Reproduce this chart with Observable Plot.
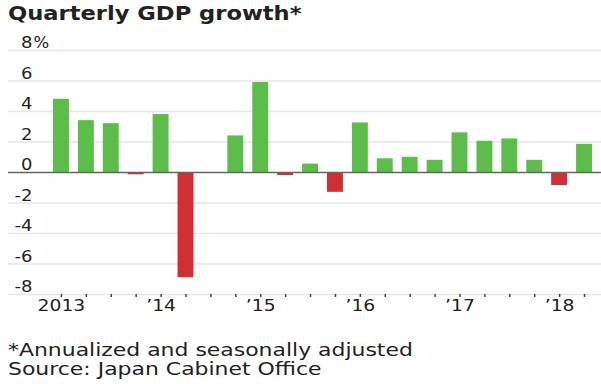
<!DOCTYPE html>
<html>
<head>
<meta charset="utf-8">
<script src="https://cdn.jsdelivr.net/npm/d3@7"></script>
<script src="https://cdn.jsdelivr.net/npm/@observablehq/plot@0.6"></script>
<style>
  html, body { margin: 0; padding: 0; background: #fff; }
  body { width: 601px; height: 384px; overflow: hidden; font-family: "DejaVu Sans", sans-serif; color: #222; }
  #title { height: 26px; line-height: 26px; font-size: 20px; font-weight: bold; padding-left: 8px; white-space: nowrap; }
  #title span { display: inline-block; transform: scaleX(1.13); transform-origin: left center; }
  #chart svg { display: block; }
  #foot { margin-top: 15px; padding-left: 8px; font-size: 17px; line-height: 19px; white-space: nowrap; }
  #foot span { display: inline-block; transform: scaleX(1.29); transform-origin: left center; }
</style>
</head>
<body>
<div id="title"><span>Quarterly GDP growth*</span></div>
<div id="chart"></div>
<div id="foot"><span>*Annualized and seasonally adjusted</span><br><span>Source: Japan Cabinet Office</span></div>
<script>
const quarters = ["2013 Q1","2013 Q2","2013 Q3","2013 Q4","2014 Q1","2014 Q2","2014 Q3","2014 Q4","2015 Q1","2015 Q2","2015 Q3","2015 Q4","2016 Q1","2016 Q2","2016 Q3","2016 Q4","2017 Q1","2017 Q2","2017 Q3","2017 Q4","2018 Q1","2018 Q2"];
const growth = [4.8, 3.4, 3.2, -0.15, 3.8, -6.9, 0, 2.4, 5.9, -0.2, 0.55, -1.3, 3.25, 0.9, 1.0, 0.8, 2.6, 2.05, 2.2, 0.8, -0.85, 1.85];
const yearTickQuarters = ["2013 Q1","2014 Q1","2015 Q1","2016 Q1","2017 Q1","2018 Q1"];
const yearTickLabels = ["2013","\u201914","\u201915","\u201916","\u201917","\u201918"];
const yTicks = [-8, -6, -4, -2, 0, 2, 4, 6, 8];
const green = "#5dbd4b", red = "#d22e36";

const data = quarters.map((q, i) => ({q, v: growth[i]}));
const labelOf = new Map(yearTickQuarters.map((q, i) => [q, yearTickLabels[i]]));

const chart = Plot.plot({
  width: 601, height: 300,
  marginTop: 24, marginBottom: 32, marginLeft: 8, marginRight: 0,
  style: {fontFamily: "DejaVu Sans", fontSize: "15px", color: "#222", background: "#fff"},
  x: {domain: quarters, range: [48.5, 596.5], paddingInner: 0.36, paddingOuter: 0.18, round: false, label: null},
  y: {domain: [-8, 8], label: null},
  marks: [
    Plot.ruleY(yTicks.filter(d => d !== 0), {stroke: "#e6e6e6", strokeWidth: 1.5}),
    Plot.barY(data.filter(d => d.v >= 0), {x: "q", y: "v", fill: green}),
    Plot.barY(data.filter(d => d.v < 0), {x: "q", y: "v", fill: red}),
    Plot.ruleY([0], {stroke: "#666", strokeWidth: 1.5}),
    Plot.axisY({ticks: yTicks, tickSize: 0, tickPadding: -24, textAnchor: "end", dy: -7,
      tickFormat: d => d < 0 ? "-" + Math.abs(d) : String(d), fontSize: 15, fill: "#222"}),
    Plot.text([8], {y: d => d, text: () => "%", frameAnchor: "left", dx: 25, dy: -7, textAnchor: "start",
      fontSize: 15, fill: "#222"}),
    Plot.axisX({ticks: quarters, tickSize: 3, tickPadding: 2.5,
      tickFormat: q => labelOf.get(q) ?? "", stroke: "#444", strokeWidth: 1.5, fontSize: 15, fill: "#222"})
  ]
});

function stretch(sel, s) {
  chart.querySelectorAll(sel).forEach(t => {
    const x = +t.getAttribute("x") || 0;
    const tr = t.getAttribute("transform") || "";
    t.setAttribute("transform", `${tr} translate(${x},0) scale(${s},1) translate(${-x},0)`);
  });
}
stretch('[aria-label="y-axis tick label"] text', 1.2);
stretch('[aria-label="text"] text', 1.1);
stretch('[aria-label="x-axis tick label"] text', 1.25);

document.getElementById("chart").appendChild(chart);
</script>
</body>
</html>
